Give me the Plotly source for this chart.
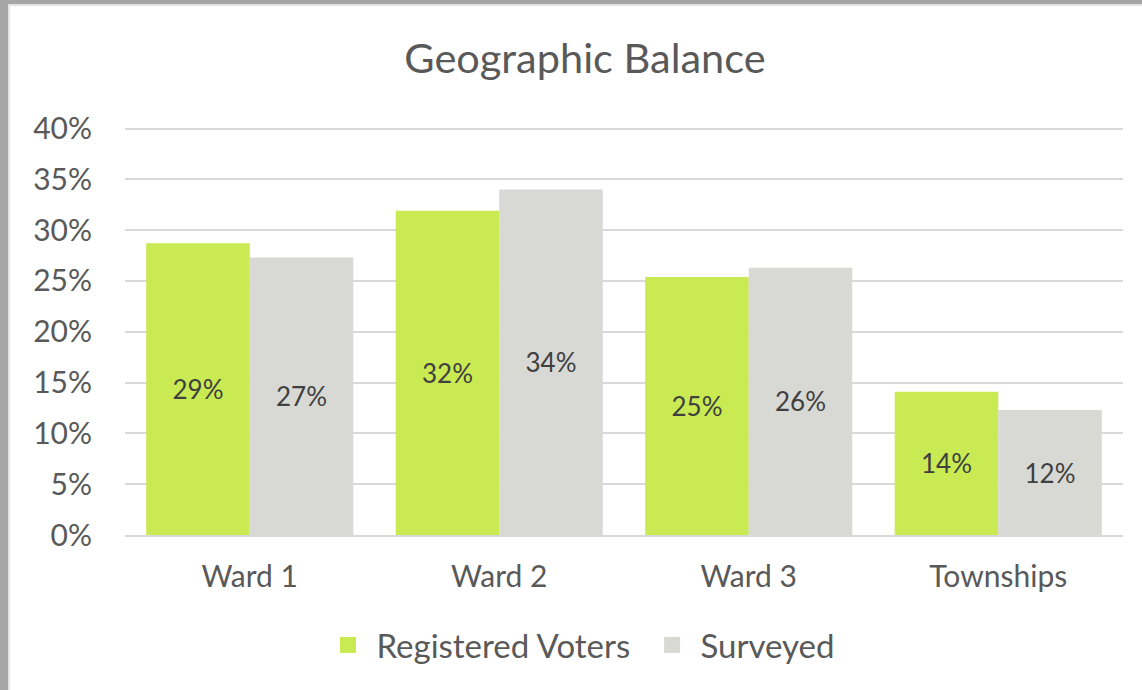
import plotly.graph_objects as go

categories = ["Ward 1", "Ward 2", "Ward 3", "Townships"]
registered = [0.287, 0.319, 0.254, 0.141]
surveyed = [0.273, 0.340, 0.263, 0.123]
yticks = [0, 0.05, 0.10, 0.15, 0.20, 0.25, 0.30, 0.35, 0.40]
series_names = ["Registered Voters", "Surveyed"]
series_colors = ["#C9EA52", "#D8D8D4"]

W, H = 1142, 690
L, R, T, B = 125, 19, 126, 155
PW, PH = W - L - R, H - T - B

def px(x):
    return (x - L) / PW

def py(y):
    return (H - B - y) / PH

FONT = "Lato, Carlito, Calibri, sans-serif"
TXT = "#595959"
NB = "\u00a0"

fig = go.Figure()
for vals, name, col in zip([registered, surveyed], series_names, series_colors):
    fig.add_trace(go.Bar(
        x=categories, y=vals, name=name, showlegend=False,
        marker=dict(color=col, line=dict(width=0)),
        texttemplate="%{y:.0%}", textposition="inside", insidetextanchor="middle",
        textfont=dict(family=FONT, size=26, color="#404040"),
    ))
legend_labels = [NB + series_names[0] + NB * 2, NB + series_names[1]]
for name, col in zip(legend_labels, series_colors):
    fig.add_trace(go.Scatter(
        x=[None], y=[None], mode="markers", name=name,
        marker=dict(symbol="square", size=17, color=col),
    ))

shapes = [
    dict(type="rect", xref="paper", yref="paper", x0=px(0), x1=px(W), y0=py(0), y1=py(4),
         fillcolor="#A6A6A6", line=dict(width=0)),
    dict(type="rect", xref="paper", yref="paper", x0=px(0), x1=px(8), y0=py(0), y1=py(H),
         fillcolor="#A6A6A6", line=dict(width=0)),
    dict(type="rect", xref="paper", yref="paper", x0=px(8), x1=px(W), y0=py(4), y1=py(6),
         fillcolor="#E3E3E3", line=dict(width=0)),
    dict(type="rect", xref="paper", yref="paper", x0=px(8), x1=px(10), y0=py(4), y1=py(H),
         fillcolor="#E3E3E3", line=dict(width=0)),
]

fig.update_layout(
    width=W, height=H,
    margin=dict(l=L, r=R, t=T, b=B),
    paper_bgcolor="white", plot_bgcolor="white",
    barmode="group", bargap=0.17, bargroupgap=0,
    title=dict(text="Geographic Balance", x=px(585), xanchor="center", xref="paper",
               y=(H - 58) / H, yanchor="middle",
               font=dict(family=FONT, size=41.5, color=TXT)),
    font=dict(family=FONT, color=TXT),
    showlegend=True,
    legend=dict(orientation="h", x=px(584), xanchor="center", y=py(645), yanchor="middle",
                font=dict(family=FONT, size=33, color=TXT), itemwidth=30,
                traceorder="normal"),
    shapes=shapes,
)
fig.update_yaxes(range=[0, 0.4025], tickvals=yticks, tickformat=".0%",
                 showgrid=True, gridcolor="#D9D9D9", gridwidth=2,
                 zeroline=False, showline=False, ticks="",
                 ticklabelstandoff=32,
                 tickfont=dict(family=FONT, size=30, color=TXT))
fig.update_xaxes(showline=True, linecolor="#D9D9D9", linewidth=2, ticks="",
                 ticklabelstandoff=14,
                 tickfont=dict(family=FONT, size=30, color=TXT))

fig.write_html("out.html", config={"displayModeBar": False},
               post_script="document.body.style.margin='0';document.body.style.overflow='hidden';")
